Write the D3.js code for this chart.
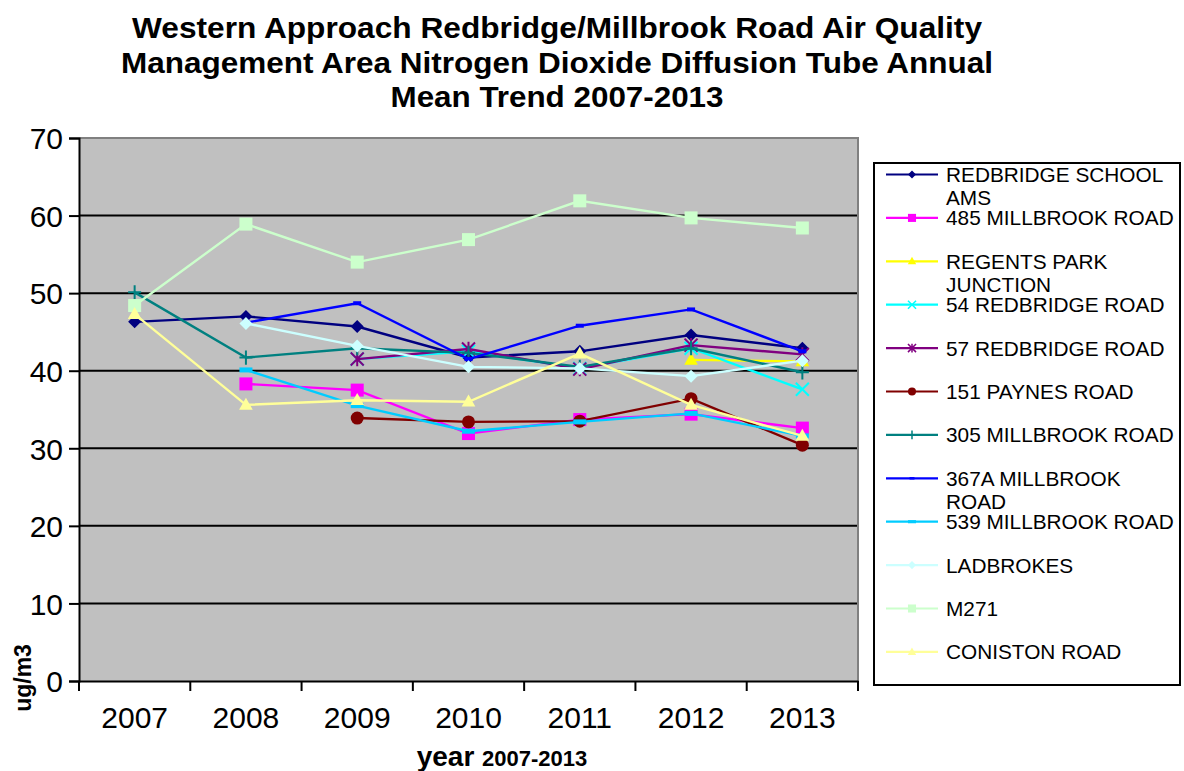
<!DOCTYPE html>
<html>
<head>
<meta charset="utf-8">
<script src="https://cdn.jsdelivr.net/npm/d3@7"></script>
<style>
  body { margin: 0; background: #fff; }
  svg { display: block; font-family: "Liberation Sans", Arial, sans-serif; }
</style>
</head>
<body>
<svg width="1184" height="771"></svg>
<script>
// ---- data ----
const years = ["2007", "2008", "2009", "2010", "2011", "2012", "2013"]
const yTicks = [0, 10, 20, 30, 40, 50, 60, 70]

const siteNames = ["REDBRIDGE SCHOOL AMS", "485 MILLBROOK ROAD", "REGENTS PARK JUNCTION", "54 REDBRIDGE ROAD",
  "57 REDBRIDGE ROAD", "151 PAYNES ROAD", "305 MILLBROOK ROAD", "367A MILLBROOK ROAD",
  "539 MILLBROOK ROAD", "LADBROKES", "M271", "CONISTON ROAD"]

const redbridgeSchool = [46.3, 47.0, 45.7, 41.7, 42.5, 44.6, 42.9]
const millbrook485    = [null, 38.3, 37.5, 31.9, 33.7, 34.4, 32.6]
const regentsPark     = [null, null, null, null, null, 41.4, 41.2]
const redbridge54     = [null, null, 41.5, 42.5, 40.3, 42.9, 37.6]
const redbridge57     = [null, null, 41.5, 42.8, 40.2, 43.3, 42.1]
const paynes151       = [null, null, 33.9, 33.4, 33.5, 36.4, 30.4]
const millbrook305    = [50.1, 41.7, 42.9, 42.3, 40.5, 42.9, 39.8]
const millbrook367A   = [null, 46.2, 48.7, 41.5, 45.8, 47.9, 42.5]
const millbrook539    = [null, 40.1, 35.5, 32.2, 33.4, 34.5, 31.6]
const ladbrokes       = [null, 46.1, 43.2, 40.5, 40.3, 39.3, 41.3]
const m271            = [48.4, 58.9, 54.0, 56.9, 61.9, 59.7, 58.4]
const coniston        = [47.3, 35.6, 36.2, 36.0, 42.2, 35.6, 31.6]

const seriesValues = [redbridgeSchool, millbrook485, regentsPark, redbridge54, redbridge57, paynes151,
  millbrook305, millbrook367A, millbrook539, ladbrokes, m271, coniston]

const colors  = ["#000080", "#ff00ff", "#ffff00", "#00ffff", "#800080", "#800000",
                 "#008080", "#0000ff", "#00ccff", "#ccffff", "#ccffcc", "#ffff99"]
const markers = ["diamond", "square", "triangle", "x", "asterisk", "circle",
                 "plus", "dashSmall", "dash", "diamond", "square", "triangle"]

const series = siteNames.map((name, i) => ({name, values: seriesValues[i], color: colors[i], marker: markers[i]}))

// ---- layout ----
const margin = {top: 138, right: 326, bottom: 90, left: 79}
const width = 1184 - margin.left - margin.right,
      height = 771 - margin.top - margin.bottom

const svg = d3.select("svg")

const x = d3.scaleBand().domain(years).range([margin.left, margin.left + width])
const y = d3.scaleLinear().domain([0, 70]).range([margin.top + height, margin.top])
const cx = d => x(d) + x.bandwidth() / 2

// marker shapes, k = scale
function drawMarker(g, type, color, k) {
  const s = 6.5 * k
  if (type === "diamond") {
    g.append("path").attr("d", `M0,${-s}L${s},0L0,${s}L${-s},0Z`).attr("fill", color)
  } else if (type === "square") {
    g.append("rect").attr("x", -s).attr("y", -s).attr("width", 2 * s).attr("height", 2 * s).attr("fill", color)
  } else if (type === "triangle") {
    g.append("path").attr("d", `M0,${-s * 1.1}L${s * 1.05},${s * 0.75}L${-s * 1.05},${s * 0.75}Z`).attr("fill", color)
  } else if (type === "circle") {
    g.append("circle").attr("r", s).attr("fill", color)
  } else if (type === "x") {
    g.append("path").attr("d", `M${-s},${-s}L${s},${s}M${s},${-s}L${-s},${s}`).attr("stroke", color).attr("stroke-width", 2 * Math.max(k, 0.75))
  } else if (type === "asterisk") {
    g.append("path").attr("d", `M${-s},${-s}L${s},${s}M${s},${-s}L${-s},${s}M0,${-s * 1.1}L0,${s * 1.1}`).attr("stroke", color).attr("stroke-width", 2 * Math.max(k, 0.75))
  } else if (type === "plus") {
    g.append("path").attr("d", `M${-s},0L${s},0M0,${-s * 1.1}L0,${s * 1.1}`).attr("stroke", color).attr("stroke-width", 2 * Math.max(k, 0.75))
  } else if (type === "dashSmall") {
    g.append("rect").attr("x", -4 * k).attr("y", -2 * k).attr("width", 8 * k).attr("height", 4 * k).attr("fill", color)
  } else if (type === "dash") {
    g.append("rect").attr("x", -6.5 * k).attr("y", -2.5 * k).attr("width", 13 * k).attr("height", 5 * k).attr("fill", color)
  }
}

// ---- title ----
const titleLines = [
  {text: "Western Approach Redbridge/Millbrook Road Air Quality", len: 850},
  {text: "Management Area Nitrogen Dioxide Diffusion Tube Annual", len: 872},
  {text: "Mean Trend 2007-2013", len: 333}
]
svg.append("g").selectAll("text")
  .data(titleLines)
  .join("text")
    .attr("x", 557)
    .attr("y", (d, i) => 38 + i * 34.5)
    .attr("text-anchor", "middle")
    .attr("font-size", 30)
    .attr("font-weight", "bold")
    .attr("textLength", d => d.len)
    .attr("lengthAdjust", "spacingAndGlyphs")
    .text(d => d.text)

// ---- plot area ----
svg.append("rect")
  .attr("x", margin.left).attr("y", margin.top)
  .attr("width", width).attr("height", height)
  .attr("fill", "#c0c0c0")

// gridlines
svg.append("g")
  .selectAll("line")
  .data(yTicks.filter(t => t > 0 && t < 70))
  .join("line")
    .attr("x1", margin.left).attr("x2", margin.left + width)
    .attr("y1", d => y(d)).attr("y2", d => y(d))
    .attr("stroke", "#000").attr("stroke-width", 2)

// top & right border
svg.append("path")
  .attr("d", `M${margin.left},${y(70)}H${margin.left + width}V${y(0)}`)
  .attr("fill", "none").attr("stroke", "#808080").attr("stroke-width", 2)

// y axis
const yAxis = svg.append("g")
  .attr("transform", `translate(${margin.left},0)`)
  .call(d3.axisLeft(y).tickValues(yTicks).tickSize(10).tickPadding(6))
yAxis.select(".domain").attr("stroke", "#000").attr("stroke-width", 2)
yAxis.selectAll(".tick line").attr("stroke", "#000").attr("stroke-width", 2)
yAxis.selectAll(".tick text").attr("font-size", 30).attr("font-family", "Liberation Sans, Arial, sans-serif").attr("fill", "#000").attr("dy", "0.36em")

// x axis
const xAxis = svg.append("g")
  .attr("transform", `translate(0,${y(0)})`)
  .call(d3.axisBottom(x).tickSize(0).tickPadding(26))
xAxis.select(".domain").attr("stroke", "#000").attr("stroke-width", 2)
xAxis.selectAll(".tick text").attr("font-size", 30).attr("font-family", "Liberation Sans, Arial, sans-serif").attr("fill", "#000")
xAxis.selectAll("line.bound")
  .data(years.map(d => x(d)).concat([x.range()[1]]))
  .join("line").attr("class", "bound")
    .attr("x1", d => d).attr("x2", d => d)
    .attr("y1", 0).attr("y2", 10)
    .attr("stroke", "#000").attr("stroke-width", 2)

// axis titles
const xTitle = svg.append("text")
  .attr("x", 502).attr("y", 766)
  .attr("text-anchor", "middle")
  .attr("font-weight", "bold")
xTitle.append("tspan").attr("font-size", 28).text("year ")
xTitle.append("tspan").attr("font-size", 22).text("2007-2013")

svg.append("text")
  .attr("transform", "translate(31,678) rotate(-90)")
  .attr("text-anchor", "middle")
  .attr("font-size", 23)
  .attr("font-weight", "bold")
  .text("ug/m3")

// ---- series ----
const line = d3.line()
  .defined(d => d.v != null)
  .x(d => cx(d.year))
  .y(d => y(d.v))

const seriesG = svg.append("g")
  .selectAll("g.series")
  .data(series)
  .join("g").attr("class", "series")

seriesG.append("path")
  .attr("d", s => line(years.map((yr, i) => ({year: yr, v: s.values[i]}))))
  .attr("fill", "none")
  .attr("stroke", s => s.color)
  .attr("stroke-width", 2.4)

seriesG.each(function (s) {
  const g = d3.select(this)
  years.forEach((yr, i) => {
    if (s.values[i] == null) return
    const m = g.append("g").attr("transform", `translate(${cx(yr)},${y(s.values[i])})`)
    drawMarker(m, s.marker, s.color, 1)
  })
})

// ---- legend ----
const legend = svg.append("g")
legend.append("rect")
  .attr("x", 874).attr("y", 163)
  .attr("width", 306).attr("height", 522)
  .attr("fill", "#fff").attr("stroke", "#000").attr("stroke-width", 2)

const rowStep = 43.4
const items = legend.selectAll("g.item")
  .data(series)
  .join("g").attr("class", "item")
    .attr("transform", (d, i) => `translate(886,${174.5 + i * rowStep})`)

items.append("line")
  .attr("x1", 0).attr("x2", 52)
  .attr("stroke", d => d.color).attr("stroke-width", 2.2)

items.each(function (d) {
  const m = d3.select(this).append("g").attr("transform", "translate(26,0)")
  drawMarker(m, d.marker, d.color, 0.62)
})

const labels = items.append("text")
  .attr("x", 60).attr("y", 7.5)
  .attr("font-size", 20.8)
  .attr("fill", "#000")

// wrap long labels onto two lines
labels.each(function (d) {
  const t = d3.select(this)
  const words = d.name.split(" ")
  let line1 = words.slice(), line2 = []
  t.text(line1.join(" "))
  while (this.getComputedTextLength() > 235 && line1.length > 1) {
    line2.unshift(line1.pop())
    t.text(line1.join(" "))
  }
  t.text(null)
  t.append("tspan").attr("x", 60).text(line1.join(" "))
  if (line2.length) t.append("tspan").attr("x", 60).attr("dy", 23).text(line2.join(" "))
})
</script>
</body>
</html>
